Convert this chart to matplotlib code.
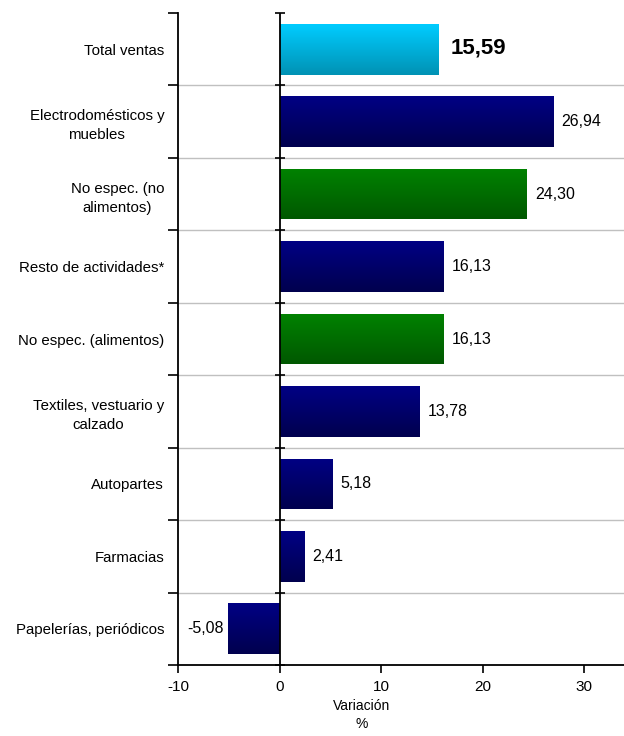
import matplotlib
matplotlib.use("Agg")
import matplotlib.pyplot as plt
import numpy as np
from matplotlib.colors import LinearSegmentedColormap

plt.rcParams['font.family'] = ['Liberation Sans', 'DejaVu Sans']

categories = ["Total ventas", "Electrodomésticos y\nmuebles", "No espec. (no\nalimentos)",
              "Resto de actividades*", "No espec. (alimentos)", "Textiles, vestuario y\ncalzado",
              "Autopartes", "Farmacias", "Papelerías, periódicos"]
values = [15.59, 26.94, 24.30, 16.13, 16.13, 13.78, 5.18, 2.41, -5.08]
labels = ["15,59", "26,94", "24,30", "16,13", "16,13", "13,78", "5,18", "2,41", "-5,08"]
groups = ["total", "blue", "green", "blue", "green", "blue", "blue", "blue", "blue"]
xticks = [-10, 0, 10, 20, 30]

grad = {
    "total": ("#00CCFF", "#0092B4"),
    "blue": ("#000084", "#00004E"),
    "green": ("#008200", "#005800"),
}

fig = plt.figure(figsize=(6.24, 7.36), dpi=100)
ax = fig.add_axes([0.2853, 0.0965, 0.7147, 0.8858])

n = len(categories)
ypos = np.arange(n)[::-1]
h = 0.7
xlim = (-10, 33.9)
ax.set_xlim(*xlim)
ax.set_ylim(-0.5, n - 0.5)

for y, v, g in zip(ypos, values, groups):
    top, bot = grad[g]
    cmap = LinearSegmentedColormap.from_list("g", [bot, top])
    bars = ax.barh(y, v, height=h, color=top, edgecolor='none', zorder=2)
    x0, x1 = min(0, v), max(0, v)
    img = ax.imshow(np.linspace(0, 1, 64).reshape(-1, 1), cmap=cmap, aspect='auto',
                    extent=(x0, x1, y - h / 2, y + h / 2), origin='lower', zorder=2.1)
    img.set_clip_path(bars.patches[0])

ax.set_xlim(*xlim)
ax.set_ylim(-0.5, n - 0.5)

for y, v, lab, g in zip(ypos, values, labels, groups):
    if g == "total":
        ax.annotate(lab, (v, y), xytext=(9, 1), textcoords='offset points', ha='left',
                    va='center', fontsize=16, fontweight='bold', color='black')
    elif v < 0:
        ax.annotate(lab, (v, y), xytext=(-3, 0), textcoords='offset points', ha='right',
                    va='center', fontsize=11.5, color='black')
    else:
        ax.annotate(lab, (v, y), xytext=(6, 0), textcoords='offset points', ha='left',
                    va='center', fontsize=11.5, color='black')

# boundaries
bounds = np.arange(n + 1) - 0.5
for b in bounds[1:-1]:
    ax.axhline(b, color='#C0C0C0', lw=1, zorder=1)
ax.set_yticks(bounds)
ax.set_yticklabels([])
ax.tick_params(axis='y', which='major', direction='out', length=7, width=1.2, color='black')
ax.set_yticks(ypos, minor=True)
ax.set_yticklabels(categories, minor=True, fontsize=10.8, ha='right', multialignment='center',
                   linespacing=1.45)
ax.tick_params(axis='y', which='minor', length=0, pad=10)

# zero line with cross ticks
ax.axvline(0, color='black', lw=1.3, zorder=3)
ax.plot(np.zeros(len(bounds)), bounds, linestyle='none', marker='_', markersize=7,
        markeredgewidth=1.2, color='black', zorder=3, clip_on=False)

ax.set_xticks(xticks)
ax.set_xticklabels([str(t) for t in xticks], fontsize=11)
ax.tick_params(axis='x', direction='out', length=6, width=1.2, pad=5)

for s in ['top', 'right']:
    ax.spines[s].set_visible(False)
ax.spines['left'].set_linewidth(1.3)
ax.spines['bottom'].set_linewidth(1.3)

fig.text(0.58, 1 - 699 / 736, "Variación\n%", ha='center', va='top', fontsize=10, linespacing=1.35)

fig.savefig("out.png", dpi=100)
